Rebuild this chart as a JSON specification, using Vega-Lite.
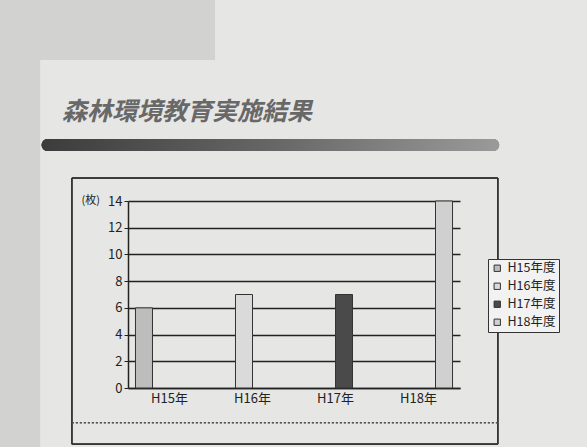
{
  "$schema": "https://vega.github.io/schema/vega-lite/v6.json",
  "width": 332,
  "height": 187,
  "autosize": {"type": "none"},
  "padding": {"left": 128, "top": 201, "right": 127, "bottom": 59},
  "background": "#e6e6e4",
  "title": {
    "text": "森林環境教育実施結果",
    "anchor": "start",
    "frame": "group",
    "dx": -66,
    "offset": -126,
    "font": "Noto Sans CJK JP",
    "fontSize": 25,
    "fontStyle": "italic",
    "fontWeight": "bold",
    "color": "#686868"
  },
  "config": {
    "view": {"stroke": null},
    "font": "Noto Sans CJK JP"
  },
  "data": {
    "values": [
      {"year": "H15年", "series": "H15年度", "count": 6},
      {"year": "H16年", "series": "H16年度", "count": 7},
      {"year": "H17年", "series": "H17年度", "count": 7},
      {"year": "H18年", "series": "H18年度", "count": 14}
    ]
  },
  "layer": [
    {
      "mark": {"type": "rect", "fill": "#d2d2d0", "stroke": null},
      "encoding": {
        "x": {"datum": -0.386, "type": "quantitative", "scale": {"domain": [0, 1]}, "axis": null},
        "x2": {"datum": -0.265},
        "y": {
          "datum": -4.5,
          "type": "quantitative",
          "scale": {"domain": [0, 14], "nice": false},
          "axis": {
            "title": "(枚)",
            "titleAngle": 0,
            "titleX": -47,
            "titleY": -1,
            "titleAlign": "left",
            "titleBaseline": "middle",
            "titleFontSize": 11,
            "titleFontWeight": "normal",
            "titleColor": "#222",
            "values": [0, 2, 4, 6, 8, 10, 12, 14],
            "tickCount": 10,
            "labelOverlap": false,
            "labelFontSize": 13,
            "labelColor": "#222",
            "grid": true,
            "gridColor": "#222",
            "gridWidth": 1.5,
            "domainColor": "#222",
            "domainWidth": 1.5,
            "tickColor": "#222",
            "tickSize": 4,
            "labelPadding": 2
          }
        },
        "y2": {"datum": 29.1}
      }
    },
    {
      "mark": {"type": "rect", "fill": "#d2d2d0", "stroke": null},
      "encoding": {
        "x": {"datum": -0.386, "type": "quantitative", "scale": {"domain": [0, 1]}, "axis": null},
        "x2": {"datum": 0.262},
        "y": {"datum": 24.6, "type": "quantitative"},
        "y2": {"datum": 29.1}
      }
    },
    {
      "mark": {
        "type": "rect",
        "cornerRadius": 6,
        "fill": {
          "gradient": "linear",
          "x1": 0, "y1": 0, "x2": 1, "y2": 0,
          "stops": [
            {"offset": 0, "color": "#3c3c3c"},
            {"offset": 0.5, "color": "#666666"},
            {"offset": 1, "color": "#9a9a9a"}
          ]
        }
      },
      "encoding": {
        "x": {"datum": -0.26, "type": "quantitative", "scale": {"domain": [0, 1]}, "axis": null},
        "x2": {"datum": 1.118},
        "y": {"datum": 18.65, "type": "quantitative"},
        "y2": {"datum": 17.75}
      }
    },
    {
      "mark": {"type": "rect", "fill": null, "stroke": "#333", "strokeWidth": 1},
      "encoding": {
        "x": {"datum": -0.169, "type": "quantitative", "scale": {"domain": [0, 1]}, "axis": null},
        "x2": {"datum": 1.114},
        "y": {"datum": 15.72, "type": "quantitative"},
        "y2": {"datum": -4.2}
      }
    },
    {
      "mark": {"type": "rule", "stroke": "#555", "strokeWidth": 1, "strokeDash": [2, 2]},
      "encoding": {
        "x": {"datum": -0.169, "type": "quantitative", "scale": {"domain": [0, 1]}, "axis": null},
        "x2": {"datum": 1.114},
        "y": {"datum": -2.6, "type": "quantitative"}
      }
    },
    {
      "mark": {"type": "bar", "stroke": "#333", "strokeWidth": 1},
      "encoding": {
        "x": {
          "field": "year",
          "type": "nominal",
          "sort": ["H15年", "H16年", "H17年", "H18年"],
          "scale": {"paddingInner": 0, "paddingOuter": 0},
          "axis": {
            "title": null,
            "labelAngle": 0,
            "labelFontSize": 13,
            "labelColor": "#222",
            "labelFont": "Noto Sans CJK JP",
            "ticks": false,
            "domainColor": "#222",
            "domainWidth": 1.5,
            "labelPadding": 4,
            "grid": false
          }
        },
        "xOffset": {
          "field": "series",
          "type": "nominal",
          "scale": {"domain": ["H15年度", "H16年度", "H17年度", "H18年度"], "paddingOuter": 0.44, "paddingInner": 0}
        },
        "y": {
          "field": "count",
          "type": "quantitative",
          "axis": {
            "title": "(枚)",
            "values": [0, 2, 4, 6, 8, 10, 12, 14],
            "tickCount": 10,
            "labelOverlap": false
          }
        },
        "color": {
          "field": "series",
          "type": "nominal",
          "scale": {
            "domain": ["H15年度", "H16年度", "H17年度", "H18年度"],
            "range": ["#bdbdbd", "#dadada", "#4a4a4a", "#d0d0d0"]
          },
          "legend": {
            "title": null,
            "orient": "none",
            "legendX": 360,
            "legendY": 58,
            "symbolType": "square",
            "symbolSize": 40,
            "symbolStrokeColor": "#333",
            "symbolStrokeWidth": 1,
            "labelFontSize": 12.5,
            "labelColor": "#222",
            "labelFont": "Noto Sans CJK JP",
            "rowPadding": 5,
            "strokeColor": "#333",
            "padding": 3,
            "fillColor": "#f2f2f2"
          }
        }
      }
    }
  ],
  "resolve": {"scale": {"x": "independent"}}
}
